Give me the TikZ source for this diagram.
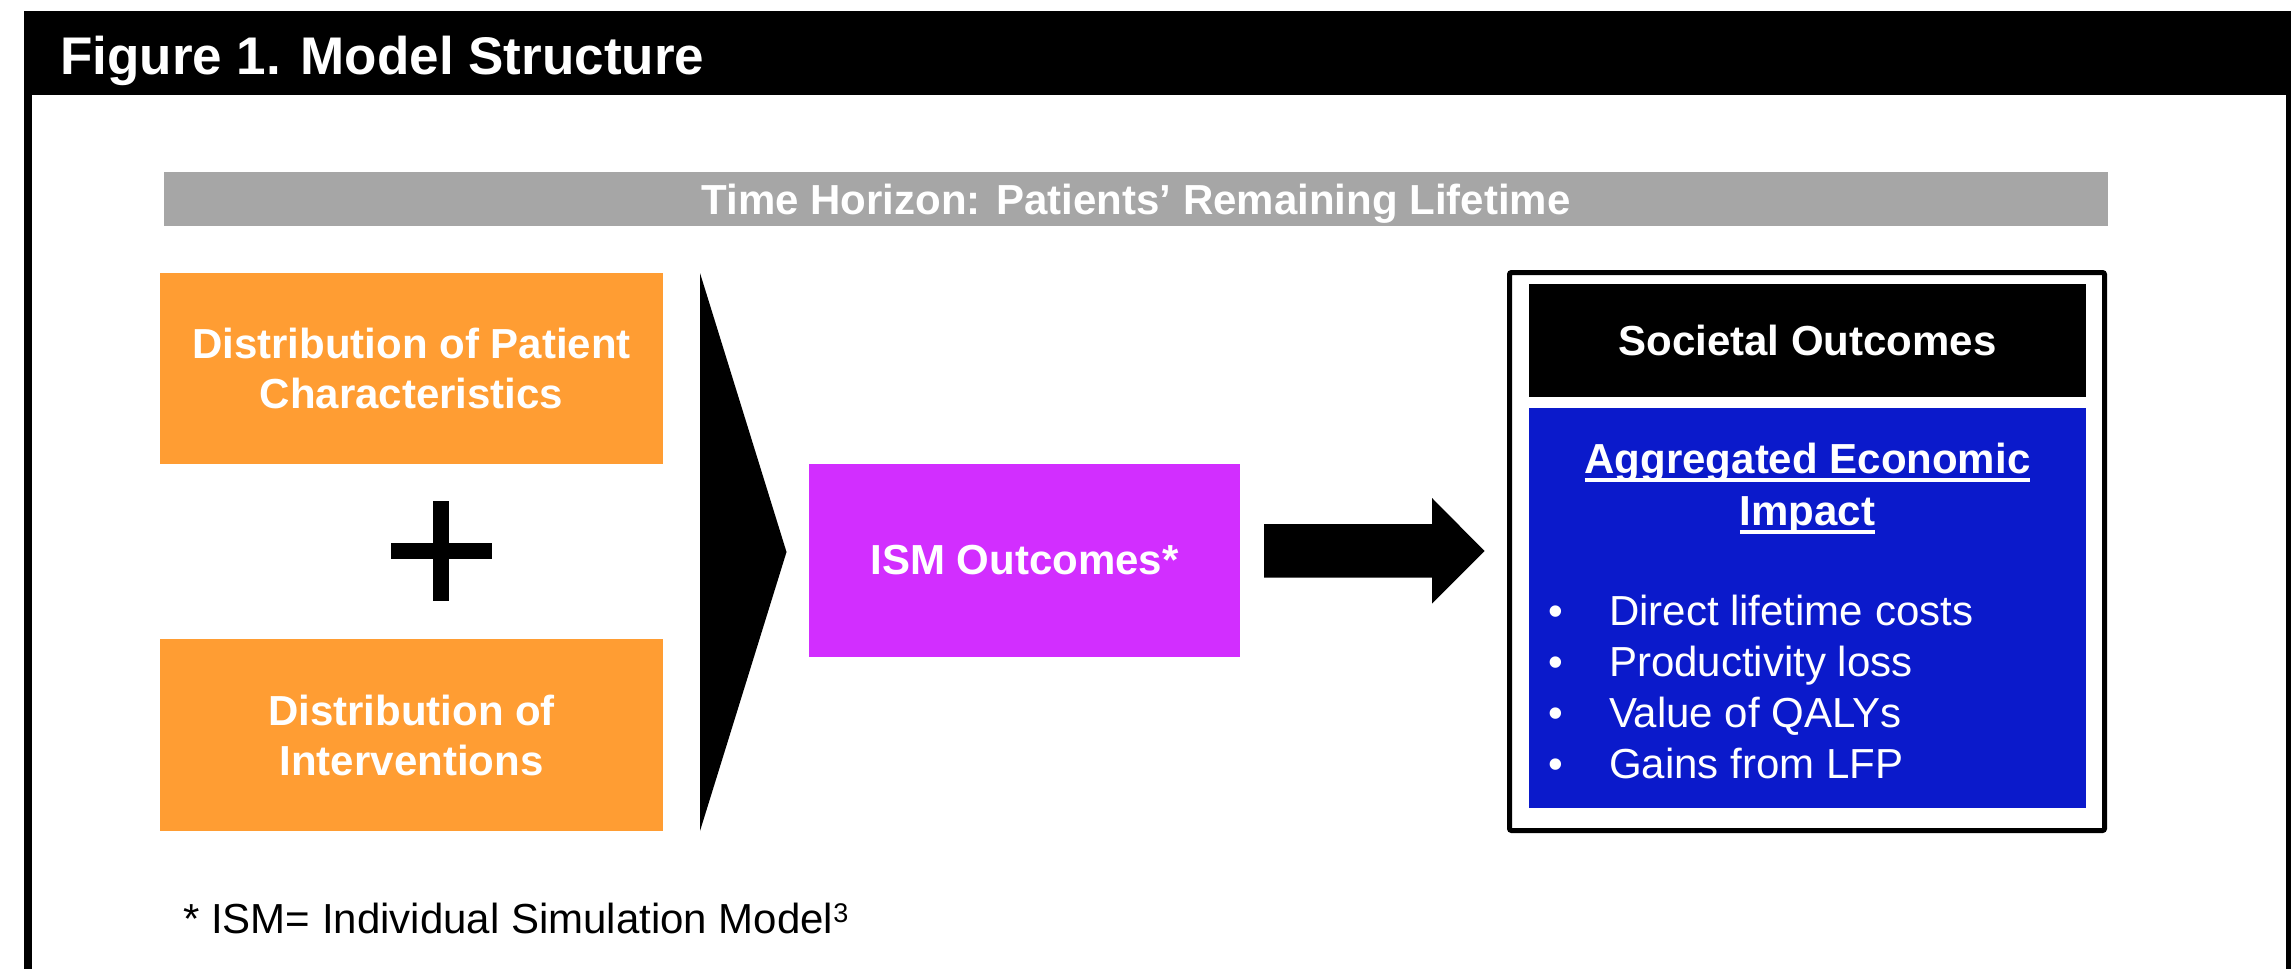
\documentclass[tikz,border=0pt]{standalone}
\usepackage{fontspec}
\setmainfont{Liberation Sans}

\definecolor{orangebox}{HTML}{FF9D33}
\definecolor{ismpurple}{HTML}{D22EFF}
\definecolor{econblue}{HTML}{0B1ACB}
\definecolor{horizongray}{HTML}{A6A6A6}

\tikzset{
  panel/.style={rectangle, inner sep=0pt, outer sep=0pt, text=white, align=center,
    font=\bfseries\fontsize{42pt}{50pt}\selectfont},
  plaintext/.style={inner sep=0pt, outer sep=0pt, text=white,
    font=\fontsize{42pt}{50pt}\selectfont},
  headtext/.style={inner sep=0pt, outer sep=0pt, text=white,
    font=\bfseries\fontsize{42pt}{50pt}\selectfont},
  ulline/.style={white, line width=3.2pt},
}

\begin{document}
\begin{tikzpicture}[x=1pt,y=-1pt]
\useasboundingbox (0,0) rectangle (2291,969);

% frame and title bar
\fill[black] (24,10.5) rectangle (2291,95);
\fill[black] (24,95) rectangle (31.7,969);
\fill[black] (2286,95) rectangle (2291,969);
\node[anchor=base west, inner sep=0pt, text=white,
      font=\bfseries\fontsize{53pt}{60pt}\selectfont] (title) at (60,74) {Figure 1. Model Structure};

% time horizon bar
\node[panel, fill=horizongray, minimum width=1944pt, minimum height=54pt, text depth=0pt]
  (horizon) at (1136,199) {Time Horizon: Patients’ Remaining Lifetime};

% inputs
\node[panel, fill=orangebox, minimum width=503pt, minimum height=191pt]
  (patients) at (411.5,368.5) {Distribution of Patient\\Characteristics};
\node[panel, fill=orangebox, minimum width=503pt, minimum height=192pt]
  (interv) at (411.5,735) {Distribution of\\Interventions};

% plus sign
\fill[black] (432.7,500.7) rectangle (449.3,601);
\fill[black] (390.7,542.7) rectangle (491.7,559.3);

% chevron
\coordinate (chevTop) at (700,273);
\coordinate (chevTip) at (786.5,552);
\coordinate (chevBot) at (700,831);
\fill[black] (chevTop) -- (chevTip) -- (chevBot) -- cycle;

% simulation outcomes
\node[panel, fill=ismpurple, minimum width=431pt, minimum height=193pt, text depth=0pt]
  (ism) at (1024.5,560) {ISM Outcomes*};

% societal outcomes panel
\node[draw=black, line width=5pt, rounded corners=2pt, fill=white, inner sep=0pt,
      minimum width=595pt, minimum height=558pt] (societal) at (1807,551.5) {};
\node[panel, fill=black, minimum width=557pt, minimum height=113pt, text depth=0pt]
  (socTitle) at (1807.5,340.5) {Societal Outcomes};
\node[fill=econblue, inner sep=0pt, minimum width=557pt, minimum height=400pt]
  (impact) at (1807.5,608) {};

\node[headtext, anchor=base] (aggA) at (1807.5,473) {Aggregated Economic};
\node[headtext, anchor=base] (aggB) at (1807.5,525) {Impact};
\draw[ulline] ([yshift=-7pt]aggA.base west) -- ([yshift=-7pt]aggA.base east);
\draw[ulline] ([yshift=-7pt]aggB.base west) -- ([yshift=-7pt]aggB.base east);

\foreach \y/\txt [count=\i] in {625/Direct lifetime costs, 676/Productivity loss,
                                 727/Value of QALYs, 778/Gains from LFP} {
  \node[plaintext, anchor=base] (dot\i) at (1556,\y) {•};
  \node[plaintext, anchor=base west] (item\i) at (1609,\y) {\txt};
}

% block arrow from simulation to societal outcomes
\fill[black] ([xshift=24pt]ism.east |- 0,524) -- (1432,524) -- (1432,498)
  -- ([xshift=-22.5pt]societal.west |- 0,551) -- (1432,603.5) -- (1432,577.5)
  -- ([xshift=24pt]ism.east |- 0,577.5) -- cycle;

% footnote
\node[anchor=base west, inner sep=0pt, font=\fontsize{42pt}{50pt}\selectfont] (note) at (183,933)
  {* ISM= Individual Simulation Model\raisebox{11pt}{\fontsize{27pt}{27pt}\selectfont 3}};
\end{tikzpicture}
\end{document}
